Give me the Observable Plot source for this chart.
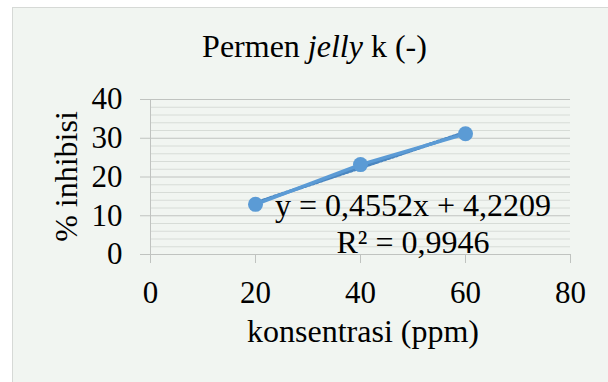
<!DOCTYPE html>
<html>
<head>
<meta charset="utf-8">
<script src="https://cdn.jsdelivr.net/npm/d3@7"></script>
<script src="https://cdn.jsdelivr.net/npm/@observablehq/plot@0.6"></script>
<style>
  html, body { margin: 0; padding: 0; background: #ffffff; }
  #chart { width: 608px; height: 382px; overflow: hidden; }
</style>
</head>
<body>
<div id="chart"></div>
<script>
// ---- data ----
const concentrations = [20, 40, 60];          // ppm
const inhibition = [12.94, 23.2, 31.15];       // % inhibisi
const xTicks = [0, 20, 40, 60, 80];
const yTicks = [0, 10, 20, 30, 40];
const yMinorTicks = [2, 4, 6, 8, 12, 14, 16, 18, 22, 24, 26, 28, 32, 34, 36, 38];
const titleParts = [
  {text: "Permen ", italic: false},
  {text: "jelly", italic: true},
  {text: " k (-)", italic: false}
];
const xLabel = "konsentrasi (ppm)";
const yLabel = "% inhibisi";
const equationText = ["y = 0,4552x + 4,2209", "R² = 0,9946"];

const data = concentrations.map((x, i) => ({x, y: inhibition[i]}));

const FONT = "'Liberation Serif', 'Times New Roman', serif";
const BLUE = "#5b9bd5";
const AXIS = "#c0c3c0";

const plot = Plot.plot({
  width: 608,
  height: 382,
  marginLeft: 150,
  marginRight: 38,
  marginTop: 99,
  marginBottom: 128,
  x: {domain: [0, 80]},
  y: {domain: [0, 40]},
  style: {background: "transparent", fontFamily: FONT, fontSize: "31px", color: "#000"},
  marks: [
    Plot.ruleY(yMinorTicks, {x1: 0, x2: 80, stroke: "#d7dcd7", strokeWidth: 1}),
    Plot.ruleY(yTicks, {x1: 0, x2: 80, stroke: AXIS, strokeWidth: 1}),
    Plot.ruleX([0], {y1: 0, y2: 40, stroke: AXIS, strokeWidth: 1}),
    Plot.axisY({ticks: yTicks, tickSize: 10, tickPadding: 18, stroke: AXIS, strokeOpacity: 1, label: null, fontSize: 31}),
    Plot.axisX({ticks: xTicks, tickSize: 9, tickPadding: 17, stroke: AXIS, strokeOpacity: 1, label: null, fontSize: 31}),
    Plot.linearRegressionY(data, {x: "x", y: "y", stroke: "#4a86c0", strokeWidth: 3.5, strokeDasharray: "1.5,2.5", ci: 0}),
    Plot.line(data, {x: "x", y: "y", stroke: BLUE, strokeWidth: 3.3}),
    Plot.dot(data, {x: "x", y: "y", r: 7.5, fill: BLUE, stroke: "none"}),
    Plot.text([equationText.join("\n")], {x: 50, y: 0.5, text: d => d, lineAnchor: "bottom", lineHeight: 1.15, fontSize: 32, fill: "#000"})
  ]
});

document.getElementById("chart").appendChild(plot);

const svg = d3.select(plot);
// chart area background and border
svg.insert("rect", ":first-child")
  .attr("x", 12.5).attr("y", 7.5)
  .attr("width", 620).attr("height", 400)
  .attr("fill", "#f1f5f1")
  .attr("stroke", "#d6d9d6");

// title with italic part
const title = svg.append("text")
  .attr("x", 314.5).attr("y", 57)
  .attr("text-anchor", "middle")
  .attr("font-family", FONT)
  .attr("font-size", 32)
  .attr("fill", "#000");
titleParts.forEach(p => {
  title.append("tspan").attr("font-style", p.italic ? "italic" : "normal").text(p.text);
});

// x axis label
svg.append("text")
  .attr("x", 363).attr("y", 342)
  .attr("text-anchor", "middle")
  .attr("font-family", FONT)
  .attr("font-size", 32)
  .attr("fill", "#000")
  .text(xLabel);

// y axis label
svg.append("text")
  .attr("transform", "translate(77,176.5) rotate(-90)")
  .attr("text-anchor", "middle")
  .attr("font-family", FONT)
  .attr("font-size", 32)
  .attr("fill", "#000")
  .text(yLabel);
</script>
</body>
</html>
